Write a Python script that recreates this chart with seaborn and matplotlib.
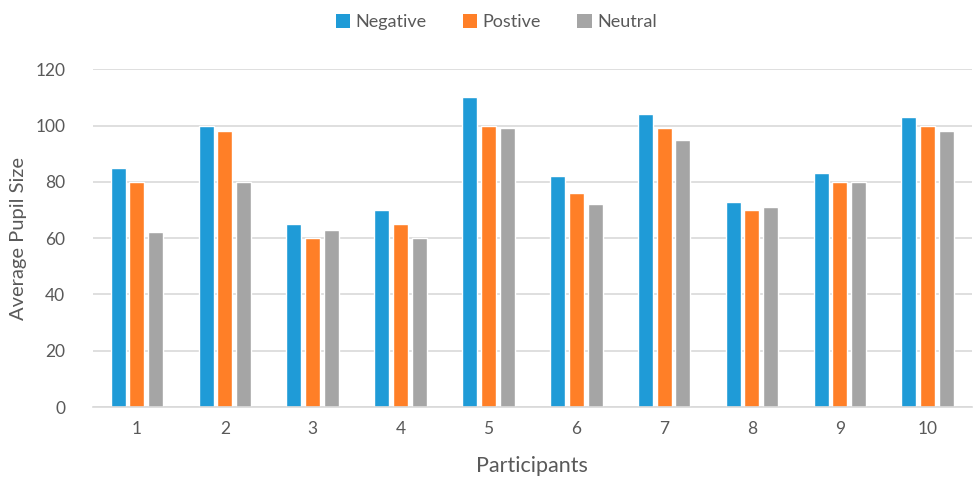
import matplotlib
matplotlib.use("Agg")
import matplotlib.pyplot as plt
import seaborn as sns
import pandas as pd
from matplotlib.patches import Patch

participants = [str(i) for i in range(1, 11)]
negative = [85, 100, 65, 70, 110, 82, 104, 73, 83, 103]
positive = [80, 98, 60, 65, 100, 76, 99, 70, 80, 100]
neutral = [62, 80, 63, 60, 99, 72, 95, 71, 80, 98]
series_names = ["Negative", "Postive", "Neutral"]
colors = ["#1F9BD7", "#FF7F27", "#A5A5A5"]

df = pd.DataFrame({
    "Participants": participants * 3,
    "Condition": [s for s in series_names for _ in participants],
    "Value": negative + positive + neutral,
})

sns.set_theme(style="white")
plt.rcParams["font.family"] = ["Lato", "DejaVu Sans"]
text_color = "#595959"

fig = plt.figure(figsize=(9.73, 4.84), dpi=100)
ax = fig.add_axes([0.0956, 0.159, 0.903, 0.698])

sns.barplot(data=df, x="Participants", y="Value", hue="Condition",
            hue_order=series_names, palette=colors, width=0.64, gap=0.2,
            saturation=1, ax=ax, legend=False)

ax.set_ylim(0, 120)
ax.set_yticks(range(0, 121, 20))
ax.set_xlim(-0.5, 9.5)
ax.yaxis.grid(True, color="#D9D9D9", linewidth=1.2)
ax.set_axisbelow(True)
for side in ["left", "right", "top"]:
    ax.spines[side].set_visible(False)
ax.spines["bottom"].set_color("#D9D9D9")
ax.spines["bottom"].set_linewidth(1.2)
ax.tick_params(axis="both", length=0, labelsize=12.5, colors=text_color)
ax.tick_params(axis="y", pad=20)
ax.tick_params(axis="x", pad=10)
ax.set_xlabel("Participants", fontsize=15.5, color=text_color, labelpad=14)
ax.set_ylabel("Average Pupil Size", fontsize=14.5, color=text_color, labelpad=6)

handles = [Patch(facecolor=c, edgecolor="none") for c in colors]
fig.legend(handles, series_names, loc="upper center", bbox_to_anchor=(0.51, 1.005),
           ncol=3, frameon=False, fontsize=13, labelcolor=text_color,
           handlelength=0.8, handleheight=0.8, handletextpad=0.3, columnspacing=2.0)

fig.savefig("out.png", dpi=100)
